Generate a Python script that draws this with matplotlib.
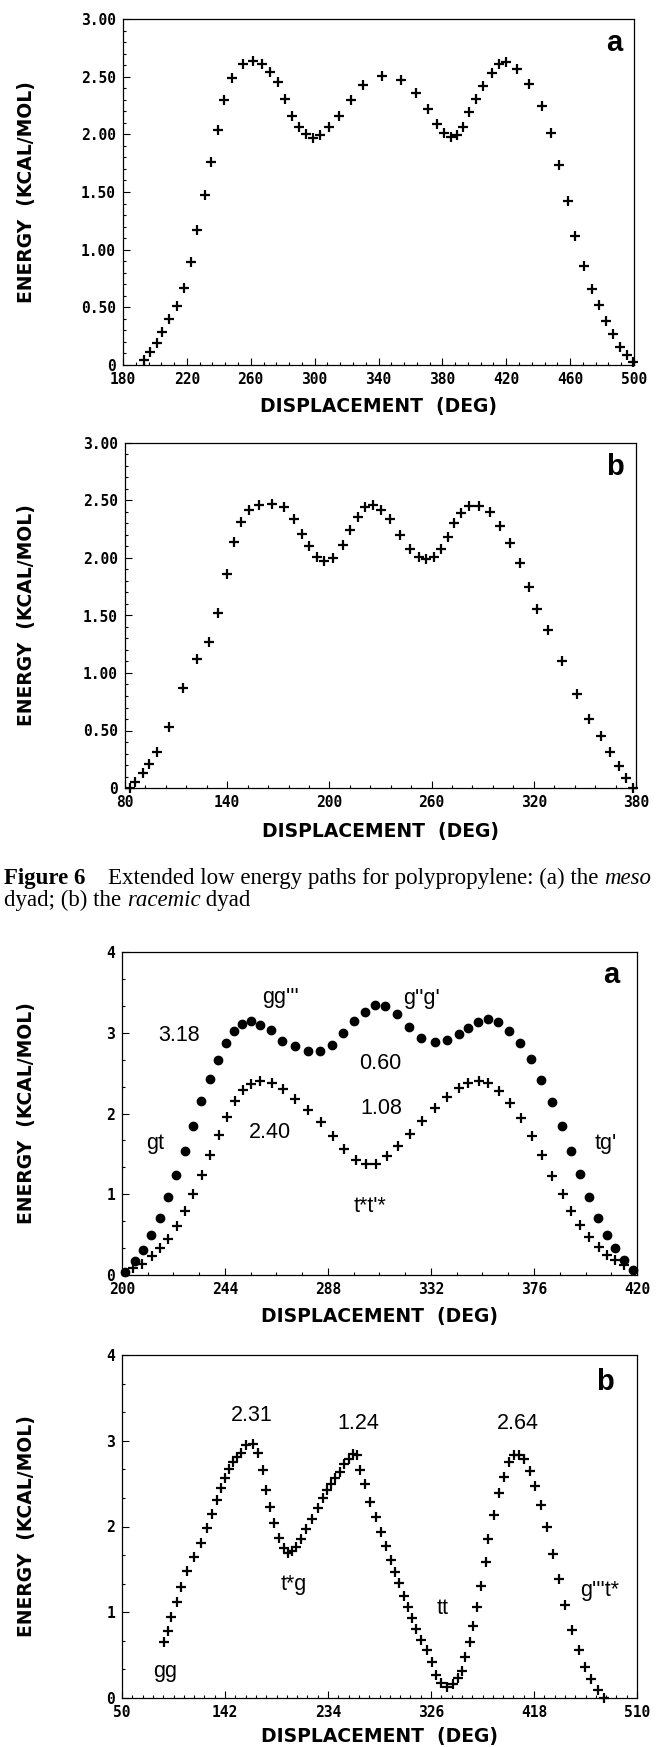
import numpy as np
import matplotlib
matplotlib.use("Agg")
import matplotlib.pyplot as plt
from matplotlib.ticker import AutoMinorLocator

# ---- data ----
# Figure 6a (meso dyad)
x6a = [193.2, 196.8, 201.1, 204.7, 208.9, 213.7, 217.9, 222.4, 226.6, 231.1,
       235.3, 239.2, 243.4, 248.2, 255.0, 261.6, 266.8, 272.1, 276.8, 281.3,
       285.8, 290.0, 294.5, 298.9, 303.2, 308.7, 315.5, 322.9, 330.5, 342.4,
       354.2, 363.7, 370.8, 376.8, 381.1, 385.3, 388.9, 392.9, 396.8, 401.1,
       405.5, 410.8, 415.3, 420.0, 426.6, 434.5, 442.4, 447.9, 453.2, 458.4,
       463.2, 468.4, 473.4, 477.9, 482.4, 487.1, 491.1, 495.5, 499.5]
e6a = [0.04, 0.11, 0.19, 0.29, 0.40, 0.51, 0.67, 0.89, 1.17, 1.47,
       1.76, 2.04, 2.30, 2.49, 2.61, 2.64, 2.61, 2.54, 2.45, 2.31,
       2.16, 2.06, 2.00, 1.97, 1.99, 2.06, 2.16, 2.30, 2.43, 2.51,
       2.47, 2.36, 2.22, 2.09, 2.01, 1.98, 1.99, 2.06, 2.19, 2.31,
       2.42, 2.53, 2.61, 2.63, 2.57, 2.44, 2.25, 2.01, 1.73, 1.42,
       1.12, 0.86, 0.66, 0.52, 0.38, 0.27, 0.16, 0.09, 0.03]

# Figure 6b (racemic dyad)
x6b = [83.0, 86.1, 90.3, 94.3, 98.9, 105.8, 113.9, 122.5, 129.1, 134.5,
       139.7, 143.9, 148.1, 153.0, 158.6, 166.5, 173.4, 179.0, 183.7, 188.1,
       192.5, 197.0, 202.4, 207.8, 212.2, 216.6, 220.8, 225.7, 230.4, 235.8,
       241.4, 247.6, 252.5, 256.9, 261.3, 265.3, 269.7, 273.4, 277.3, 282.0,
       288.1, 294.2, 300.1, 306.0, 311.7, 317.1, 322.0, 328.2, 336.8, 345.4,
       352.7, 359.4, 365.0, 369.9, 374.1, 378.5]
e6b = [0.0, 0.05, 0.13, 0.21, 0.31, 0.53, 0.87, 1.12, 1.27, 1.52,
       1.86, 2.14, 2.31, 2.42, 2.46, 2.47, 2.44, 2.34, 2.21, 2.10,
       2.01, 1.97, 2.00, 2.11, 2.24, 2.36, 2.44, 2.46, 2.42, 2.34,
       2.20, 2.08, 2.01, 1.99, 2.01, 2.08, 2.18, 2.30, 2.39, 2.45,
       2.45, 2.40, 2.28, 2.13, 1.96, 1.75, 1.56, 1.37, 1.10, 0.82,
       0.60, 0.45, 0.31, 0.19, 0.09, 0.0]

# Figure 7a, filled circles
x7a_dot = [201.4, 205.4, 209.1, 212.5, 216.1, 219.6, 223.2, 226.8, 230.4, 233.9,
           237.5, 240.9, 244.5, 247.9, 251.4, 255.2, 259.1, 263.6, 268.4, 273.8,
           279.5, 284.5, 289.8, 294.5, 298.9, 303.6, 308.0, 312.5, 317.5, 322.5,
           327.9, 333.6, 338.9, 343.8, 348.0, 352.0, 356.3, 360.7, 365.4, 370.0,
           374.6, 379.1, 383.6, 388.0, 391.8, 395.7, 399.6, 403.4, 407.1, 410.7,
           414.5, 418.4]
e7a_dot = [0.04, 0.17, 0.31, 0.49, 0.71, 0.96, 1.24, 1.54, 1.85, 2.15,
           2.43, 2.66, 2.87, 3.02, 3.11, 3.14, 3.10, 3.03, 2.90, 2.84,
           2.78, 2.77, 2.85, 3.00, 3.14, 3.26, 3.34, 3.33, 3.23, 3.07,
           2.94, 2.88, 2.91, 2.98, 3.06, 3.13, 3.17, 3.13, 3.02, 2.87,
           2.67, 2.42, 2.14, 1.84, 1.54, 1.25, 0.96, 0.71, 0.50, 0.33,
           0.19, 0.06]
# Figure 7a, plus signs
x7a_plus = [204.6, 208.6, 212.7, 216.3, 219.8, 223.4, 227.0, 230.5, 234.3, 237.7,
            241.3, 244.8, 248.2, 251.6, 255.2, 258.9, 263.9, 268.6, 273.9, 279.5,
            284.8, 290.0, 295.0, 299.8, 304.1, 308.6, 313.4, 318.0, 323.0, 328.2,
            333.6, 338.9, 343.9, 348.0, 352.3, 356.4, 360.9, 365.7, 370.4, 375.0,
            379.6, 383.9, 388.2, 391.8, 395.7, 399.6, 403.6, 407.1, 410.7, 414.3]
e7a_plus = [0.09, 0.14, 0.23, 0.33, 0.45, 0.61, 0.79, 1.00, 1.24, 1.48,
            1.73, 1.96, 2.16, 2.29, 2.37, 2.40, 2.38, 2.30, 2.18, 2.04,
            1.89, 1.72, 1.56, 1.43, 1.37, 1.38, 1.47, 1.60, 1.75, 1.91,
            2.07, 2.20, 2.32, 2.38, 2.40, 2.38, 2.28, 2.13, 1.94, 1.72,
            1.48, 1.23, 1.00, 0.79, 0.62, 0.47, 0.35, 0.25, 0.19, 0.12]

# Figure 7b
x7b = [87.5, 91.2, 94.2, 98.7, 102.9, 108.5, 114.1, 120.5, 125.7, 130.6,
       134.7, 138.5, 142.2, 146.0, 149.4, 152.7, 156.5, 161.0, 166.6, 171.1,
       175.6, 178.6, 182.4, 186.1, 189.9, 194.4, 198.1, 201.9, 205.6, 209.7,
       214.6, 219.9, 224.7, 229.2, 233.0, 236.7, 240.5, 245.0, 248.7, 252.5,
       256.2, 260.0, 263.0, 266.7, 271.6, 276.5, 281.0, 285.5, 290.0, 294.1,
       297.8, 301.6, 305.3, 309.1, 312.8, 317.3, 322.2, 326.7, 330.5, 335.3,
       340.6, 345.5, 350.3, 354.1, 356.7, 360.5, 363.5, 367.2, 371.0, 374.7,
       377.3, 382.2, 386.7, 391.6, 395.3, 399.8, 404.3, 409.2, 414.8, 419.3,
       424.2, 429.8, 434.7, 440.3, 445.9, 451.6, 457.9, 463.6, 469.2, 474.8,
       480.4]
e7b = [0.65, 0.78, 0.94, 1.12, 1.29, 1.48, 1.64, 1.81, 1.98, 2.14,
       2.31, 2.45, 2.57, 2.67, 2.75, 2.81, 2.86, 2.95, 2.96, 2.86,
       2.66, 2.43, 2.23, 2.04, 1.87, 1.75, 1.69, 1.71, 1.76, 1.86,
       1.97, 2.09, 2.21, 2.33, 2.42, 2.50, 2.56, 2.63, 2.73, 2.79,
       2.85, 2.83, 2.66, 2.49, 2.29, 2.11, 1.94, 1.77, 1.61, 1.47,
       1.34, 1.19, 1.06, 0.93, 0.80, 0.68, 0.56, 0.42, 0.27, 0.18,
       0.13, 0.16, 0.23, 0.32, 0.48, 0.65, 0.84, 1.06, 1.31, 1.59,
       1.86, 2.13, 2.39, 2.58, 2.75, 2.83, 2.83, 2.79, 2.65, 2.47,
       2.25, 1.99, 1.68, 1.39, 1.08, 0.79, 0.56, 0.36, 0.22, 0.09,
       0.0]

# tick values / labels
xt6a = [180, 220, 260, 300, 340, 380, 420, 460, 500]
xt6b = [80, 140, 200, 260, 320, 380]
yt6 = [0, 0.5, 1.0, 1.5, 2.0, 2.5, 3.0]
ylab6 = ["0", "0.50", "1.00", "1.50", "2.00", "2.50", "3.00"]
xt7a = [200, 244, 288, 332, 376, 420]
xt7b = [50, 142, 234, 326, 418, 510]
yt7 = [0, 1, 2, 3, 4]
ylab7 = ["0", "1", "2", "3", "4"]

# annotations (text, x, energy)
notes7a = [("gg'''", 267.5, 3.44), ("g''g'", 328, 3.43), ("3.18", 224.3, 2.97),
           ("0.60", 310.4, 2.62), ("1.08", 310.7, 2.06), ("2.40", 263, 1.76),
           ("gt", 214, 1.63), ("tg'", 406.8, 1.63), ("t*t'*", 305.9, 0.85)]
notes7b = [("2.31", 165.5, 3.30), ("1.24", 261, 3.20), ("2.64", 403.6, 3.20),
           ("t*g", 203, 1.32), ("tt", 336, 1.04), ("g'''t*", 476.7, 1.25),
           ("gg", 88.6, 0.31)]

W, H = 658, 1747
fig = plt.figure(figsize=(W / 100, H / 100), dpi=100)

TICKFONT = dict(family="DejaVu Sans Mono", weight="bold", size=10.5)
LABELFONT = dict(family="DejaVu Sans", weight="bold", size=13.5)
NOTEFONT = dict(family=["Liberation Sans", "DejaVu Sans"], size=15.5)
LETTERFONT = dict(family=["Liberation Sans", "DejaVu Sans"], weight="bold", size=21)


def px_axes(l, t, r, b):
    return fig.add_axes([l / W, 1 - b / H, (r - l) / W, (b - t) / H])


def style(ax, xlim, ylim, xt, yt, ylab, xminor, yminor, labelpad):
    ax.set_xlim(*xlim)
    ax.set_ylim(*ylim)
    ax.set_xticks(xt)
    ax.set_xticklabels([str(v) for v in xt], fontdict=TICKFONT)
    ax.set_yticks(yt)
    ax.set_yticklabels(ylab, fontdict=TICKFONT)
    ax.xaxis.set_minor_locator(AutoMinorLocator(xminor))
    ax.yaxis.set_minor_locator(AutoMinorLocator(yminor))
    ax.tick_params(which="both", direction="in", width=0.8)
    ax.tick_params(which="major", length=5, pad=5)
    ax.tick_params(which="minor", length=2.5)
    for s in ax.spines.values():
        s.set_linewidth(0.9)
    ax.set_xlabel("DISPLACEMENT  (DEG)", fontdict=LABELFONT, labelpad=labelpad)
    ax.set_ylabel("ENERGY  (KCAL/MOL)", fontdict=LABELFONT)
    # put the y label at the far left like the scan
    bbox = ax.get_position()
    ax.yaxis.set_label_coords((36 / W - bbox.x0) / bbox.width, 0.5)


plus_kw = dict(ls="none", marker="+", ms=7, mew=1.6, color="black", clip_on=False)
dot_kw = dict(ls="none", marker="o", ms=6, color="black", clip_on=False)

# Figure 6a
ax1 = px_axes(123, 19, 634, 365)
ax1.plot(x6a, e6a, **plus_kw)
style(ax1, (180, 500), (0, 3), xt6a, yt6, ylab6, 5, 5, 7)
ax1.text(487.5, 2.79, "a", ha="center", va="center", **LETTERFONT)

# Figure 6b
ax2 = px_axes(125, 443, 636, 788)
ax2.plot(x6b, e6b, **plus_kw)
style(ax2, (80, 380), (0, 3), xt6b, yt6, ylab6, 5, 5, 9)
ax2.text(367.5, 2.79, "b", ha="center", va="center", **LETTERFONT)

# Figure 7a
ax3 = px_axes(122, 952, 637, 1275)
ax3.plot(x7a_dot, e7a_dot, **dot_kw)
ax3.plot(x7a_plus, e7a_plus, **plus_kw)
style(ax3, (200, 420), (0, 4), xt7a, yt7, ylab7, 4, 3, 7)
ax3.text(409, 3.72, "a", ha="center", va="center", **LETTERFONT)
for s, x, y in notes7a:
    ax3.text(x, y, s, ha="center", va="center", **NOTEFONT)

# Figure 7b
ax4 = px_axes(122, 1355, 637, 1698)
ax4.plot(x7b, e7b, **plus_kw)
style(ax4, (50, 510), (0, 4), xt7b, yt7, ylab7, 10, 3, 5)
ax4.text(481, 3.68, "b", ha="center", va="center", **LETTERFONT)
for s, x, y in notes7b:
    ax4.text(x, y, s, ha="center", va="center", **NOTEFONT)

# caption with mixed bold / italic pieces
renderer = fig.canvas.get_renderer()


def rich_line(x_px, y_px, parts, size=16.5):
    x = x_px / W
    for s, weight, fstyle in parts:
        t = fig.text(x, 1 - y_px / H, s, fontsize=size, family="Liberation Serif",
                     weight=weight, style=fstyle, va="baseline", ha="left")
        bb = t.get_window_extent(renderer)
        x += bb.width / W


rich_line(4, 884, [("Figure 6", "bold", "normal"),
                   ("    Extended low energy paths for polypropylene: (a) the ", "normal", "normal"),
                   ("meso", "normal", "italic")])
rich_line(4, 906, [("dyad; (b) the ", "normal", "normal"),
                   ("racemic", "normal", "italic"),
                   (" dyad", "normal", "normal")])

fig.savefig("out.png", dpi=100)
